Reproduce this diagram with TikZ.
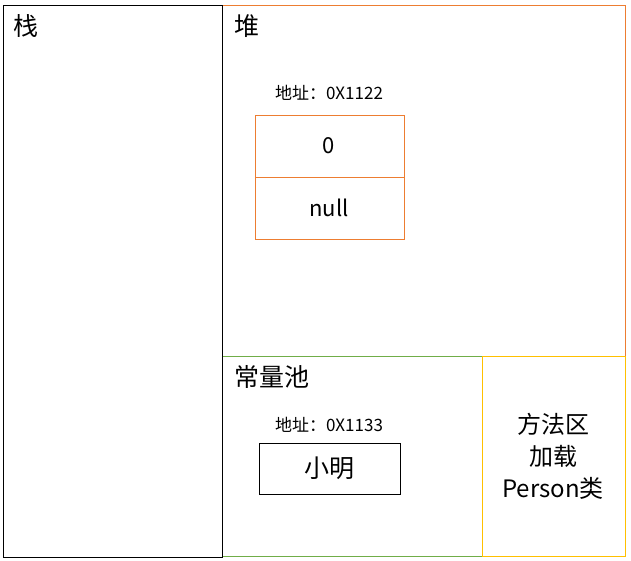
\documentclass[tikz,border=0pt]{standalone}
\usepackage{fontspec}
\setmainfont{Noto Sans CJK SC}
\definecolor{heapc}{HTML}{ED7D31}
\definecolor{poolc}{HTML}{70AD47}
\definecolor{methc}{HTML}{FFC000}
\begin{document}
\begin{tikzpicture}[x=1pt,y=-1pt,
  region/.style={line width=0.9pt},
  title/.style={anchor=west,inner sep=0pt,font=\fontsize{25}{30}\selectfont},
  addr/.style={inner sep=0pt,font=\fontsize{17}{20}\selectfont},
  cell/.style={inner sep=0pt,font=\fontsize{22}{26}\selectfont}]
\useasboundingbox (0,0) rectangle (631,561);
\fill[white] (0,0) rectangle (631,561);
% regions
\draw[region,heapc] (222,5) rectangle (625,356);
\draw[region,poolc] (222,356) rectangle (482,556);
\draw[region,methc] (482,356) rectangle (625,556);
\draw[region,black] (3,5) rectangle (222,557);
% titles
\node[title] (stack) at (13,26) {栈};
\node[title] (heap) at (234,26) {堆};
\node[title] (pool) at (234,377) {常量池};
% heap object
\node[addr] (a1) at (329,93) {地址：0X1122};
\draw[heapc,line width=0.8pt] (255,115) rectangle (404,239);
\draw[heapc,line width=0.8pt] (255,177) -- (404,177);
\node[cell] (v0) at (329,146) {0};
\node[cell] (vnull) at (329,208) {null};
% constant pool object
\node[addr] (a2) at (329,425) {地址：0X1133};
\draw[black,line width=0.8pt] (259,443) rectangle (400,494);
\node[cell,font=\fontsize{25}{30}\selectfont] (xm) at (329,468) {小明};
% method area
\node[cell,align=center,font=\fontsize{24}{32}\selectfont] (meth) at (553,456) {方法区\\加载\\Person类};
\end{tikzpicture}
\end{document}
